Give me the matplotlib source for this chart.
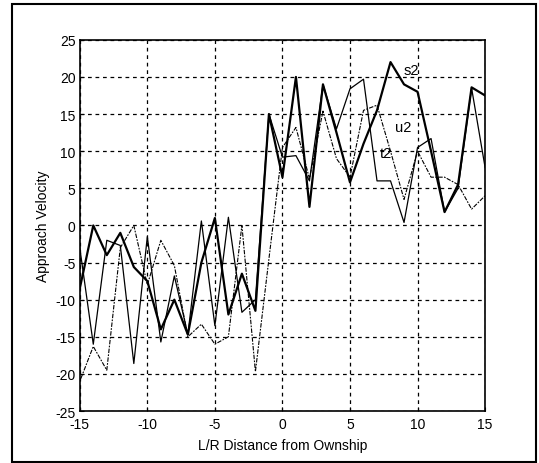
import numpy as np
import matplotlib.pyplot as plt
from matplotlib.patches import Rectangle

# data
dist = list(range(-15, 16))
s2 = [-8.5, 0, -4, -1, -5.6, -7.5, -14, -10, -14.7, -5, 1, -12, -6.5, -11.5, 15,
      6.5, 20, 2.5, 19, 12.5, 5.8, 11, 15.5, 22, 19, 18, 10, 1.8, 5.5, 18.6, 17.5]
u2 = [-3, -16, -2, -2.7, -18.6, -1.5, -15.7, -6.8, -14.7, 0.6, -13.5, 1.1, -11.7, -10, 15,
      9.2, 9.4, 6, 19, 13, 18.4, 19.7, 6, 6, 0.4, 10.5, 11.7, 1.8, 5, 18.5, 7.8]
t2 = [-21, -16.3, -19.5, -3, 0, -8, -2, -5.4, -15, -13.3, -16, -15, 0, -19.7, -4.5,
      10.5, 13.2, 6.3, 15.4, 9, 6.5, 15.5, 16.2, 10, 3.5, 10, 6.5, 6.5, 5.5, 2.2, 4]
series_labels = ["s2", "u2", "t2"]
label_pos = [(9.0, 21.0), (8.3, 13.3), (7.2, 9.8)]

plt.rcParams['font.family'] = ['Liberation Sans', 'DejaVu Sans']
plt.rcParams['axes.unicode_minus'] = False

fig = plt.figure(figsize=(5.39, 4.64), dpi=100)
ax = fig.add_axes([0.148, 0.112, 0.752, 0.800])

ax.plot(dist, s2, color='black', linewidth=1.6)
ax.plot(dist, u2, color='black', linewidth=0.9)
ax.plot(dist, t2, color='black', linewidth=0.8, linestyle=(0, (1.5, 1.2, 4, 1.2)))

for name, (lx, ly) in zip(series_labels, label_pos):
    ax.text(lx, ly, name, fontsize=10.5, ha='left', va='center')

ax.set_xlim(-15, 15)
ax.set_ylim(-25, 25)
ax.set_xticks(range(-15, 16, 5))
ax.set_yticks(range(-25, 26, 5))
ax.grid(True, color='black', linestyle=(0, (3, 3)), linewidth=0.9)
ax.tick_params(direction='in', length=3, labelsize=10, colors='black')
ax.tick_params(axis='x', pad=4)
ax.tick_params(axis='y', pad=3)
for sp in ax.spines.values():
    sp.set_linewidth(1.2)

ax.set_xlabel("L/R Distance from Ownship", fontsize=10, labelpad=5)
ax.set_ylabel("Approach Velocity", fontsize=10, labelpad=4)

# outer frame around the whole figure
fig.patches.append(Rectangle((0.022, 0.003), 0.972, 0.986, transform=fig.transFigure,
                             fill=False, edgecolor='black', linewidth=1.5))

fig.savefig("out.png", dpi=100)
